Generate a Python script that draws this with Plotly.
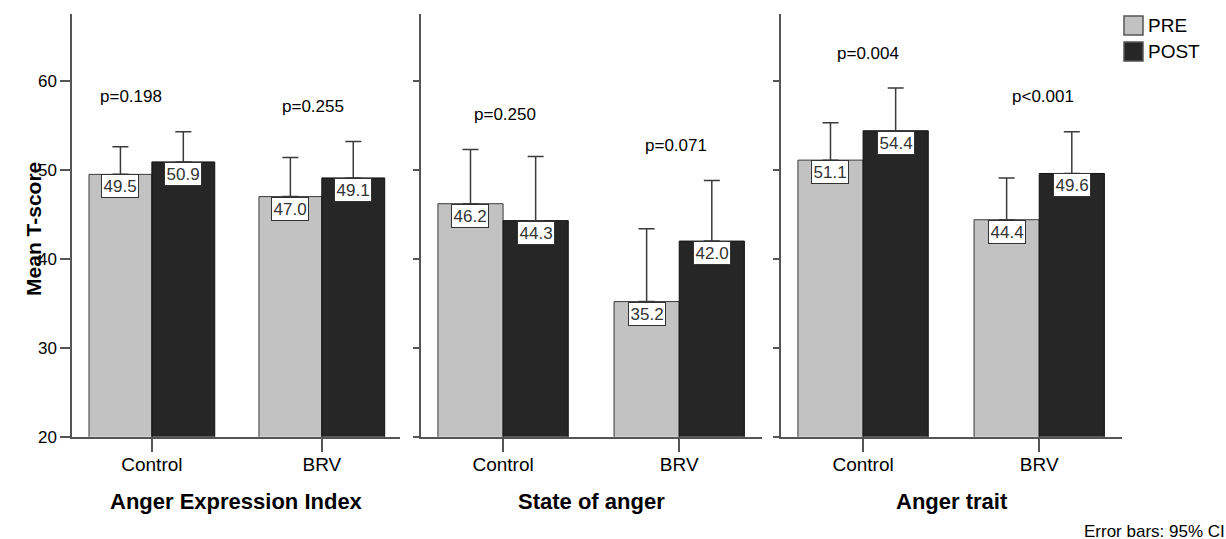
import plotly.graph_objects as go

# ---------------- data ----------------
categories = ["Control", "BRV"]
panel_titles = ["Anger Expression Index", "State of anger", "Anger trait"]
series_names = ["PRE", "POST"]

pre_mean = [[49.5, 47.0], [46.2, 35.2], [51.1, 44.4]]
post_mean = [[50.9, 49.1], [44.3, 42.0], [54.4, 49.6]]
pre_ci_upper = [[52.6, 51.4], [52.3, 43.4], [55.3, 49.1]]
post_ci_upper = [[54.3, 53.2], [51.5, 48.8], [59.2, 54.3]]
p_labels = [["p=0.198", "p=0.255"], ["p=0.250", "p=0.071"], ["p=0.004", "p<0.001"]]
y_tick_vals = [20, 30, 40, 50, 60]
y_title = "Mean T-score"
footnote = "Error bars: 95% CI"

# ---------------- layout / style ----------------
W = 1226
REF_H = 539            # reference pixel frame used for positions
H = 550                # figure height (page is shown squeezed to 539)
SY = H / REF_H
FONT = "Arial, Liberation Sans, sans-serif"
PRE_FILL, PRE_LINE = "#c2c2c2", "#3a3a3a"
POST_FILL, POST_LINE = "#262626", "#111111"
AXIS_COL = "#555555"
ERR_COL = "#3a3a3a"


def py(y_px):
    return 1 - y_px / REF_H


x_domains_px = [(72, 400), (421, 762), (781, 1122)]
x_ranges = [[-0.47, 1.46], [-0.466, 1.47], [-0.466, 1.47]]
y_range = [20, 67.5]
y_dom = [py(436), py(14.2)]
p_x_offsets = [[-0.12, -0.05], [0.01, -0.02], [0.03, 0.02]]
p_y_gap = 3.9
bar_offset = 0.185

fig = go.Figure()
annotations = []
shapes = []

for i in range(3):
    xa = "x" if i == 0 else f"x{i+1}"
    ya = "y" if i == 0 else f"y{i+1}"
    for s, (means, uppers, fill, line) in enumerate([
        (pre_mean[i], pre_ci_upper[i], PRE_FILL, PRE_LINE),
        (post_mean[i], post_ci_upper[i], POST_FILL, POST_LINE),
    ]):
        fig.add_trace(go.Bar(
            x=categories, y=means, name=series_names[s],
            legendgroup=series_names[s], showlegend=False,
            marker=dict(color=fill, line=dict(color=line, width=1)),
            error_y=dict(type="data", symmetric=False,
                         array=[u - m for u, m in zip(uppers, means)],
                         arrayminus=[0] * len(means),
                         color=ERR_COL, thickness=1.5, width=8),
            xaxis=xa, yaxis=ya, hoverinfo="skip",
        ))
        # value labels
        for c, m in enumerate(means):
            annotations.append(dict(
                x=c + (-bar_offset if s == 0 else bar_offset), y=m,
                xref=xa, yref=ya, text=f"{m:.1f}", showarrow=False,
                yanchor="top", xanchor="center",
                font=dict(family=FONT, size=17, color="#333333"),
                bgcolor="white", bordercolor="#333333", borderwidth=1, borderpad=1.5,
            ))
    # p-value labels
    for c in range(len(categories)):
        top = max(pre_ci_upper[i][c], post_ci_upper[i][c])
        annotations.append(dict(
            x=c + p_x_offsets[i][c], y=top + p_y_gap, xref=xa, yref=ya,
            text=p_labels[i][c], showarrow=False, yanchor="middle",
            font=dict(family=FONT, size=17, color="black"),
        ))
    # panel x titles
    annotations.append(dict(
        x=0.5, y=0, yshift=-63 * SY, xref=f"{xa} domain", yref=f"{ya} domain",
        text=f"<b>{panel_titles[i]}</b>", showarrow=False,
        yanchor="middle", font=dict(family=FONT, size=22, color="black"),
    ))

annotations.append(dict(
    x=20 / W, y=py(229), xref="paper", yref="paper",
    text=f"<b>{y_title}</b>", textangle=-90, showarrow=False,
    font=dict(family=FONT, size=21, color="black"),
))
annotations.append(dict(
    x=1082 / W, y=py(531), xref="paper", yref="paper",
    text=footnote, showarrow=False, xanchor="left", yanchor="middle",
    font=dict(family=FONT, size=17, color="black"),
))

# legend (drawn as swatches + labels)
legend_items = [(series_names[0], PRE_FILL, 16), (series_names[1], POST_FILL, 42)]
for name, fill, top_px in legend_items:
    shapes.append(dict(
        type="rect", xref="paper", yref="paper",
        x0=1124 / W, x1=1143 / W, y0=py(top_px + 19), y1=py(top_px),
        fillcolor=fill, line=dict(color="#555555", width=1.5),
    ))
    annotations.append(dict(
        x=1146 / W, y=py(top_px + 9.5), xref="paper", yref="paper",
        text=name, showarrow=False, xanchor="left", yanchor="middle",
        font=dict(family=FONT, size=19, color="black"),
    ))

layout = dict(
    width=W, height=H,
    margin=dict(l=0, r=0, t=0, b=0),
    paper_bgcolor="white", plot_bgcolor="white",
    barmode="group", bargap=0.26, bargroupgap=0,
    showlegend=False,
    annotations=annotations, shapes=shapes,
    font=dict(family=FONT),
)

for i in range(3):
    xk = "xaxis" if i == 0 else f"xaxis{i+1}"
    yk = "yaxis" if i == 0 else f"yaxis{i+1}"
    ya = "y" if i == 0 else f"y{i+1}"
    xa = "x" if i == 0 else f"x{i+1}"
    d0, d1 = x_domains_px[i]
    layout[xk] = dict(
        domain=[d0 / W, d1 / W], anchor=ya, range=x_ranges[i], type="category",
        showline=True, linecolor=AXIS_COL, linewidth=1.5,
        ticks="outside", ticklen=13 * SY, tickcolor=AXIS_COL, tickwidth=1.5,
        ticklabelstandoff=-4,
        showgrid=False, zeroline=False,
        tickfont=dict(family=FONT, size=19, color="black"),
    )
    layout[yk] = dict(
        domain=y_dom, anchor=xa, range=y_range,
        tickvals=y_tick_vals, showticklabels=(i == 0),
        showline=True, linecolor=AXIS_COL, linewidth=1.5,
        ticks="outside", ticklen=(10 if i == 0 else 6), tickcolor=AXIS_COL, tickwidth=1.5,
        showgrid=False, zeroline=False,
        tickfont=dict(family=FONT, size=17, color="black"),
    )

fig.update_layout(**layout)
fig.write_html("out.html")
